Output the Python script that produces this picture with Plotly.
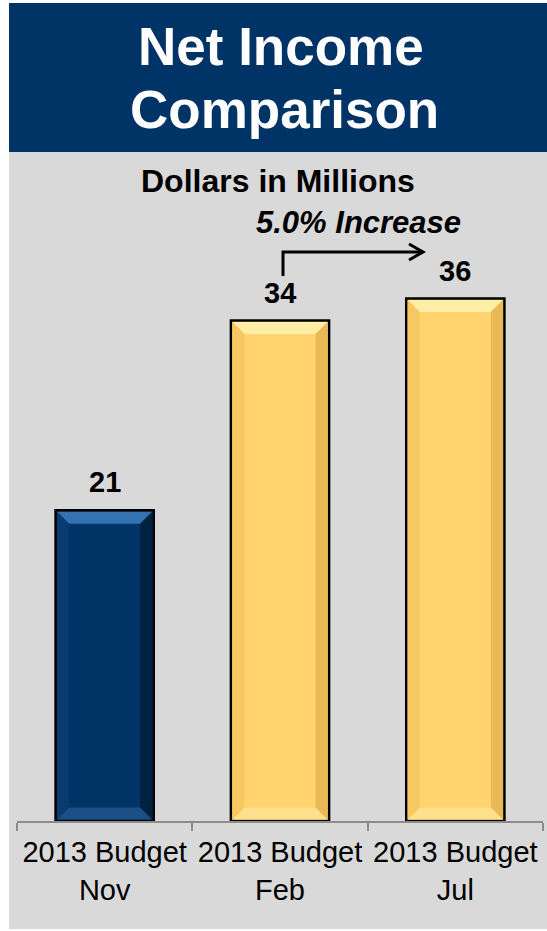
import plotly.graph_objects as go

# ---- data ----
categories = ["2013 Budget<br>Nov", "2013 Budget<br>Feb", "2013 Budget<br>Jul"]
net_income = [21.3, 34.3, 35.8]
bar_colors = ["#003366", "#FFD36E", "#FFD36E"]
bevel_top = ["#3572B2", "#FFEFA6", "#FFEFA6"]
bevel_bottom = ["#1A4F88", "#FFE08C", "#FFE08C"]
bevel_side_r = ["#00213F", "#E9B955", "#E9B955"]
bevel_side_l = ["#093B70", "#F7C862", "#F7C862"]
title_lines = ["Net Income", "Comparison"]
subtitle = "Dollars in Millions"
change_label = "5.0% Increase"

W, H = 547, 931
ML, MR, MT, MB = 17, 4, 160, 110
PW, PH = W - ML - MR, H - MT - MB
Y_MAX = 45.3
BAR_W = 0.56

def px_x(p):
    return (p - ML) / PW

def px_y(p):
    return (H - MB - p) / PH

FONT = "Liberation Sans, Arial, sans-serif"

fig = go.Figure()
fig.add_trace(go.Bar(
    x=categories, y=net_income, width=BAR_W,
    marker=dict(color=bar_colors, line=dict(color="#000000", width=2.5)),
    hoverinfo="skip",
))

shapes = []
# backgrounds
shapes.append(dict(type="rect", xref="paper", yref="paper", layer="below",
                   x0=px_x(9), x1=px_x(W), y0=px_y(929), y1=px_y(152),
                   fillcolor="#D9D9D9", line=dict(width=0)))
shapes.append(dict(type="rect", xref="paper", yref="paper", layer="below",
                   x0=px_x(9), x1=px_x(W), y0=px_y(152), y1=px_y(3),
                   fillcolor="#003366", line=dict(width=0)))

# bevel effect derived from each bar's value
upx = PW / 3.0          # pixels per category
upy = PH / Y_MAX        # pixels per unit
dx, dy = 12 / upx, 12 / upy
ix, iy = 1.5 / upx, 1.5 / upy
for i, v in enumerate(net_income):
    l, r = i - BAR_W / 2 + ix, i + BAR_W / 2 - ix
    t, b = v - iy, 0 + iy
    polys = [
        ([(l, t), (r, t), (r - dx, t - dy), (l + dx, t - dy)], bevel_top[i]),
        ([(l, b), (r, b), (r - dx, b + dy), (l + dx, b + dy)], bevel_bottom[i]),
        ([(r, t), (r, b), (r - dx, b + dy), (r - dx, t - dy)], bevel_side_r[i]),
        ([(l, t), (l, b), (l + dx, b + dy), (l + dx, t - dy)], bevel_side_l[i]),
    ]
    for pts, col in polys:
        path = "M " + " L ".join(f"{x},{y}" for x, y in pts) + " Z"
        shapes.append(dict(type="path", xref="x", yref="y", path=path,
                           fillcolor=col, line=dict(width=0), layer="above"))

# connector arrow from Feb to Jul
ax0, ay0 = px_x(283), px_y(276)
ay1 = px_y(252)
axe = px_x(423)
shapes.append(dict(type="path", xref="paper", yref="paper",
                   path=f"M {ax0},{ay0} L {ax0},{ay1} L {axe},{ay1}",
                   line=dict(color="#000000", width=3)))
shapes.append(dict(type="path", xref="paper", yref="paper",
                   path=f"M {px_x(409)},{px_y(244)} L {axe},{ay1} L {px_x(409)},{px_y(260)}",
                   line=dict(color="#000000", width=3)))

annotations = []
annotations.append(dict(xref="paper", yref="paper", x=px_x(281), y=px_y(46),
                        text=f"<b>{title_lines[0]}</b>", showarrow=False,
                        xanchor="center", yanchor="middle",
                        font=dict(family=FONT, size=53, color="#FFFFFF")))
annotations.append(dict(xref="paper", yref="paper", x=px_x(284), y=px_y(110),
                        text=f"<b>{title_lines[1]}</b>", showarrow=False,
                        xanchor="center", yanchor="middle",
                        font=dict(family=FONT, size=53, color="#FFFFFF")))
annotations.append(dict(xref="paper", yref="paper", x=px_x(278), y=px_y(181),
                        text=f"<b>{subtitle}</b>", showarrow=False,
                        xanchor="center", yanchor="middle",
                        font=dict(family=FONT, size=32, color="#000000")))
annotations.append(dict(xref="paper", yref="paper", x=px_x(358), y=px_y(222),
                        text=f"<b><i>{change_label}</i></b>", showarrow=False,
                        xanchor="center", yanchor="middle",
                        font=dict(family=FONT, size=31, color="#000000")))
for i, v in enumerate(net_income):
    annotations.append(dict(xref="x", yref="y", x=categories[i], y=v,
                            text=f"<b>{round(v)}</b>", showarrow=False,
                            xanchor="center", yanchor="bottom", yshift=10,
                            font=dict(family=FONT, size=29, color="#000000")))

fig.update_layout(
    width=W, height=H,
    margin=dict(l=ML, r=MR, t=MT, b=MB, pad=0),
    paper_bgcolor="#FFFFFF", plot_bgcolor="rgba(0,0,0,0)",
    showlegend=False,
    shapes=shapes, annotations=annotations,
    xaxis=dict(type="category", range=[-0.5, 2.5], tickson="boundaries",
               showgrid=False, zeroline=False,
               showline=True, linecolor="#8C8C8C", linewidth=2,
               ticks="outside", ticklen=8, tickcolor="#8C8C8C", tickwidth=2,
               ticklabelstandoff=4,
               tickfont=dict(family=FONT, size=29, color="#000000"),
               fixedrange=True),
    yaxis=dict(range=[0, Y_MAX], visible=False, showgrid=False, zeroline=False,
               fixedrange=True),
)

fig.write_html("out.html", config=dict(displayModeBar=False))
